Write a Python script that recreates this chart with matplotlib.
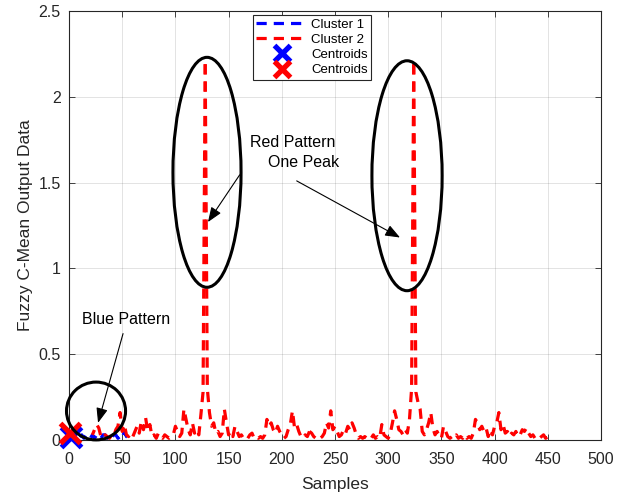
import numpy as np
import matplotlib
matplotlib.use("Agg")
import matplotlib.pyplot as plt
from matplotlib.patches import Ellipse

plt.rcParams['font.family'] = ['Liberation Sans', 'DejaVu Sans']

# ---- data ----
red_x = list(range(22, 452, 2))
red_y = [
    0.03, 0.06, 0.09, 0.07, 0.02, 0.01, 0.03, 0.02, 0.01,
    0.03, 0.02, 0.06, 0.08, 0.16, 0.05, 0.09, 0.03, 0.02, 0.04,
    0.02, 0.05, 0.08, 0.04, 0.11, 0.06, 0.13, 0.05, 0.09, 0.02,
    0.03, 0.01, 0.04, 0.02, 0.01, 0.03, 0.02, 0.01, 0.02, 0.03,
    0.08, 0.05, 0.02, 0.04, 0.18, 0.12, 0.06, 0.03, 0.10, 0.04,
    0.06, 0.03, 0.15, 0.28, 2.19, 0.30, 0.16, 0.08, 0.10, 0.04,
    0.05, 0.02, 0.04, 0.18, 0.10, 0.03, 0.05, 0.02, 0.08, 0.05,
    0.02, 0.03, 0.01, 0.02, 0.01, 0.03, 0.04, 0.01, 0.02, 0.01,
    0.02, 0.01, 0.03, 0.12, 0.08, 0.10, 0.06, 0.04, 0.08, 0.05,
    0.03, 0.01, 0.02, 0.06, 0.09, 0.17, 0.07, 0.09, 0.05, 0.02,
    0.01, 0.03, 0.02, 0.05, 0.04, 0.02, 0.01, 0.02, 0.01, 0.02,
    0.04, 0.10, 0.07, 0.17, 0.06, 0.08, 0.05, 0.02, 0.03, 0.06,
    0.04, 0.08, 0.06, 0.10, 0.07, 0.03, 0.01, 0.02, 0.01, 0.02,
    0.01, 0.02, 0.01, 0.03, 0.01, 0.02, 0.01, 0.09, 0.03, 0.02,
    0.01, 0.04, 0.10, 0.17, 0.12, 0.06, 0.05, 0.03, 0.06, 0.04,
    0.12, 0.30, 2.19, 0.28, 0.22, 0.18, 0.05, 0.03, 0.06, 0.10,
    0.16, 0.07, 0.03, 0.05, 0.02, 0.01, 0.08, 0.05, 0.02, 0.01,
    0.02, 0.01, 0.03, 0.01, 0.02, 0.01, 0.03, 0.01, 0.02, 0.01,
    0.04, 0.12, 0.10, 0.06, 0.08, 0.05, 0.07, 0.02, 0.06, 0.03,
    0.08, 0.10, 0.16, 0.06, 0.09, 0.04, 0.05, 0.02, 0.04, 0.03,
    0.05, 0.02, 0.03, 0.06, 0.05, 0.07, 0.04, 0.02, 0.03, 0.01,
    0.02, 0.01, 0.02, 0.03, 0.01, 0.02,
]
blue_x = list(range(0, 58, 2))
blue_y = [0.02, 0.03, 0.01, 0.02, 0.03, 0.01, 0.03, 0.01, 0.03, 0.02,
          0.01, 0.03, 0.01, 0.03, 0.02, 0.01, 0.03, 0.03, 0.01, 0.02,
          0.01, 0.03, 0.03, 0.01, 0.02, 0.01, 0.05, 0.02, 0.01]
centroid_blue = (2, 0.02)
centroid_red = (1, 0.04)

series_labels = ["Cluster 1", "Cluster 2", "Centroids", "Centroids"]
x_ticks = [0, 50, 100, 150, 200, 250, 300, 350, 400, 450, 500]
y_ticks = [0, 0.5, 1, 1.5, 2, 2.5]
y_tick_labels = ["0", "0.5", "1", "1.5", "2", "2.5"]

# ---- figure ----
fig = plt.figure(figsize=(6.26, 4.95), dpi=100)
ax = fig.add_axes([69/626, 55/495, (601-69)/626, (440-11)/495])

dash = (0, (3.2, 2.2))
lw = 2.3
ax.plot(blue_x, blue_y, color='#0000ff', lw=lw, linestyle=dash, label=series_labels[0])

# red series: drawn in pieces that all start at a peak so the dashes of the
# rising and falling flanks of each spike coincide
rx = np.array(red_x)
ry = np.array(red_y)
peaks = [int(np.argmax(ry[:100])), 100 + int(np.argmax(ry[100:]))]
mid = (peaks[0] + peaks[1]) // 2
pieces = [
    slice(peaks[0], None, -1),      # peak1 -> start (reversed)
    slice(peaks[0], mid + 1),       # peak1 -> mid
    slice(peaks[1], mid - 1, -1),   # peak2 -> mid (reversed)
    slice(peaks[1], None),          # peak2 -> end
]
for i, sl in enumerate(pieces):
    ax.plot(rx[sl], ry[sl], color='#ff0000', lw=lw, linestyle=dash,
            label=series_labels[1] if i == 0 else '_nolegend_')

ax.plot([centroid_blue[0]], [centroid_blue[1]], 'x', color='#0000ff', ms=14, mew=3.8,
        clip_on=False, label=series_labels[2], zorder=5)
ax.plot([centroid_red[0]], [centroid_red[1]], 'x', color='#ff0000', ms=14, mew=3.8,
        clip_on=False, label=series_labels[3], zorder=6)

ax.set_xlim(0, 500)
ax.set_ylim(0, 2.5)
ax.set_xticks(x_ticks)
ax.set_yticks(y_ticks)
ax.set_yticklabels(y_tick_labels)

dark = '#262626'
ax.grid(True, color=dark, alpha=0.15, lw=0.6)
ax.set_axisbelow(True)
for s in ax.spines.values():
    s.set_color(dark)
    s.set_linewidth(0.8)
ax.tick_params(direction='in', length=4, width=0.6, colors=dark, labelsize=11.5,
               top=True, right=True)
ax.tick_params(axis='x', pad=9)
ax.tick_params(axis='y', pad=6)

ax.set_xlabel("Samples", fontsize=12.5, color=dark, labelpad=7)
ax.set_ylabel("Fuzzy C-Mean Output Data", fontsize=12.5, color=dark, labelpad=4)

# annotations
for cx, cy, w, h in [(129.7, 1.56, 64, 1.34), (317.7, 1.54, 66, 1.34), (25.4, 0.169, 55.5, 0.337)]:
    ax.add_patch(Ellipse((cx, cy), w, h, fill=False, ec='black', lw=2.2, zorder=7, clip_on=False))

ax.text(53.6, 0.70, "Blue Pattern", fontsize=11.5, ha='center', va='center', color='black')
ax.text(170, 1.735, "Red Pattern", fontsize=11.5, ha='left', va='center', color='black')
ax.text(187, 1.615, "One Peak", fontsize=11.5, ha='left', va='center', color='black')

arrow_kw = dict(arrowstyle='-|>,head_length=0.9,head_width=0.35', color='black', lw=0.8,
                shrinkA=0, shrinkB=0)
ax.annotate("", xy=(27.3, 0.10), xytext=(50.8, 0.62), arrowprops=arrow_kw)
ax.annotate("", xy=(130.6, 1.27), xytext=(160.4, 1.545), arrowprops=arrow_kw)
ax.annotate("", xy=(311.1, 1.18), xytext=(214, 1.51), arrowprops=arrow_kw)

leg = ax.legend(loc='upper center', bbox_to_anchor=(0.457, 0.99), fontsize=9.5, frameon=True,
                fancybox=False, edgecolor=dark, framealpha=1, handlelength=3.8,
                borderpad=0.25, labelspacing=0.22, handletextpad=0.35, borderaxespad=0.0,
                markerscale=0.85)
leg.get_frame().set_linewidth(0.8)

fig.savefig("out.png", dpi=100)
